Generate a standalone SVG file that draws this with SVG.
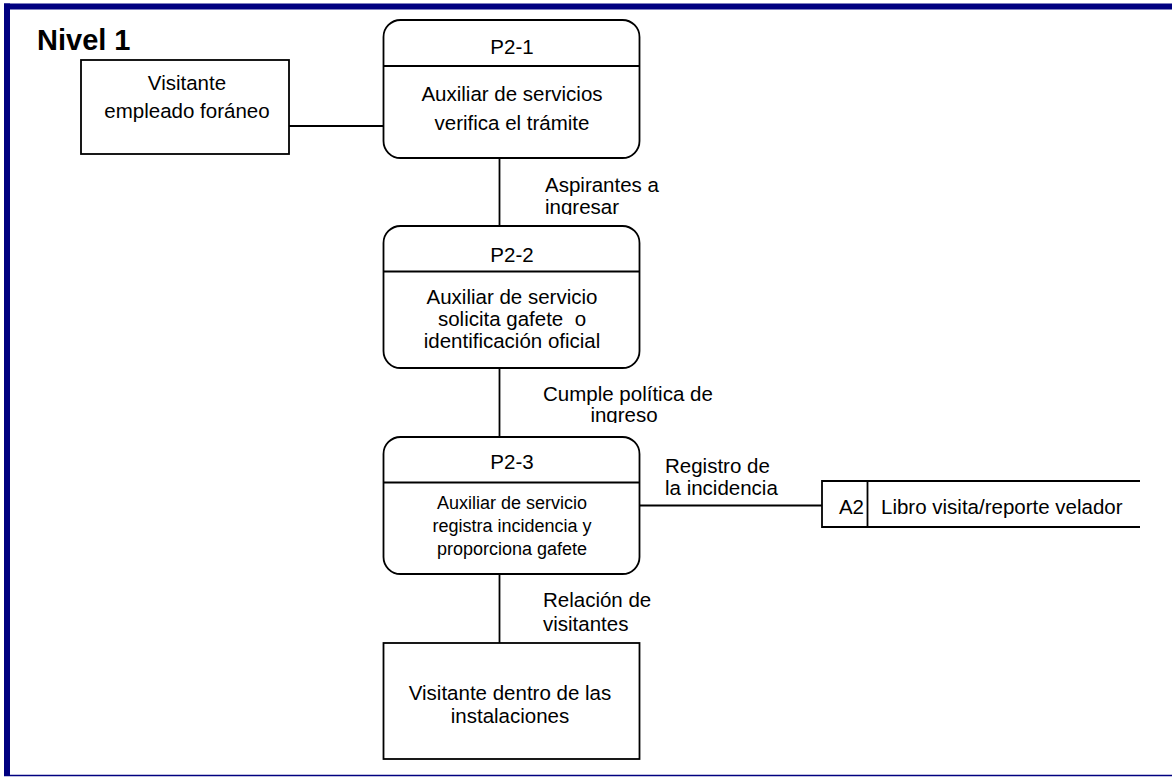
<svg xmlns="http://www.w3.org/2000/svg" width="1172" height="777" viewBox="0 0 1172 777">
  <style>
    text { font-family: "Liberation Sans", Arial, sans-serif; font-size: 20.5px; fill: #000; }
    .title { font-size: 29px; font-weight: bold; }
    .small { font-size: 18px; }
    .mid { text-anchor: middle; }
    .box { fill: #fff; stroke: #000; stroke-width: 1.8; }
    .edge { fill: none; stroke: #000; stroke-width: 1.8; }
    .frame { fill: #000080; }
  </style>
  <defs>
    <clipPath id="clipAspirantes"><rect x="530" y="170" width="160" height="45"/></clipPath>
    <clipPath id="clipCumple"><rect x="530" y="380" width="200" height="43"/></clipPath>
  </defs>

  <rect width="1172" height="777" fill="#fff"/>

  <!-- page frame -->
  <g id="frame">
    <rect class="frame" x="4" y="3.5" width="1168" height="6"/>
    <rect class="frame" x="4" y="3.5" width="6" height="772.5"/>
    <line x1="4" y1="775.5" x2="1172" y2="775.5" stroke="#000080" stroke-width="1.5"/>
  </g>

  <text class="title" x="37" y="50">Nivel 1</text>

  <!-- connectors -->
  <g id="connectors">
    <line class="edge" x1="289" y1="126" x2="383" y2="126"/>
    <line class="edge" x1="499.5" y1="158" x2="499.5" y2="226"/>
    <line class="edge" x1="499.5" y1="368" x2="499.5" y2="437"/>
    <line class="edge" x1="639" y1="505.5" x2="822" y2="505.5"/>
    <line class="edge" x1="499.5" y1="574" x2="499.5" y2="643"/>
    <g id="labels">
      <g clip-path="url(#clipAspirantes)">
        <text x="545" y="192">Aspirantes a</text>
        <text x="545" y="214">ingresar</text>
      </g>
      <g clip-path="url(#clipCumple)">
        <text x="543" y="401">Cumple política de</text>
        <text class="mid" x="624" y="422">ingreso</text>
      </g>
      <text x="665" y="473">Registro de</text>
      <text x="665" y="495">la incidencia</text>
      <text x="543" y="607">Relación de</text>
      <text x="543" y="631">visitantes</text>
    </g>
  </g>

  <!-- external entity: visitor -->
  <g id="visitante">
    <rect class="box" x="81" y="60" width="208" height="94"/>
    <text class="mid" x="187" y="90">Visitante</text>
    <text class="mid" x="187" y="118">empleado foráneo</text>
  </g>

  <!-- process P2-1 -->
  <g id="p2-1">
    <rect class="box" x="383.5" y="20" width="256" height="138" rx="17"/>
    <line class="edge" x1="383.5" y1="66" x2="639.5" y2="66"/>
    <text class="mid" x="512" y="54">P2-1</text>
    <text class="mid" x="512" y="101">Auxiliar de servicios</text>
    <text class="mid" x="512" y="130">verifica el trámite</text>
  </g>

  <!-- process P2-2 -->
  <g id="p2-2">
    <rect class="box" x="383.5" y="226" width="256" height="142" rx="17"/>
    <line class="edge" x1="383.5" y1="271.5" x2="639.5" y2="271.5"/>
    <text class="mid" x="512" y="262">P2-2</text>
    <text class="mid" x="512" y="304">Auxiliar de servicio</text>
    <text class="mid" x="512" y="326" xml:space="preserve">solicita gafete  o</text>
    <text class="mid" x="512" y="348">identificación oficial</text>
  </g>

  <!-- process P2-3 -->
  <g id="p2-3">
    <rect class="box" x="383.5" y="437" width="256" height="137" rx="17"/>
    <line class="edge" x1="383.5" y1="482.5" x2="639.5" y2="482.5"/>
    <text class="mid" x="512" y="469">P2-3</text>
    <text class="mid small" x="512" y="509">Auxiliar de servicio</text>
    <text class="mid small" x="512" y="532">registra incidencia y</text>
    <text class="mid small" x="512" y="555">proporciona gafete</text>
  </g>

  <!-- data store A2 -->
  <g id="a2">
    <rect x="822" y="481" width="318" height="46" fill="#fff"/>
    <path class="edge" d="M1140 481 H822 V527 H1140 M867.5 481 V527"/>
    <text x="864" y="514" text-anchor="end">A2</text>
    <text x="881" y="514">Libro visita/reporte velador</text>
  </g>

  <!-- external entity: visitor inside -->
  <g id="visitante-dentro">
    <rect class="box" x="383.5" y="643" width="256" height="116"/>
    <text class="mid" x="510" y="700">Visitante dentro de las</text>
    <text class="mid" x="510" y="723">instalaciones</text>
  </g>
</svg>
